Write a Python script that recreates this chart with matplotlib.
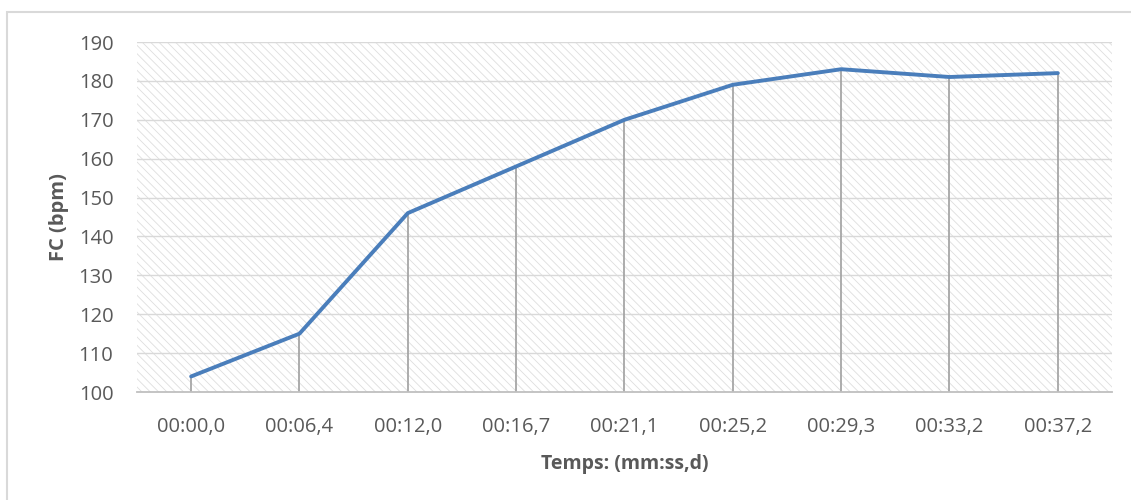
import matplotlib.pyplot as plt
from matplotlib.patches import Rectangle

plt.rcParams['font.family'] = ['Open Sans', 'DejaVu Sans']
plt.rcParams['hatch.linewidth'] = 0.6

temps = ['00:00,0', '00:06,4', '00:12,0', '00:16,7', '00:21,1',
         '00:25,2', '00:29,3', '00:33,2', '00:37,2']
fc = [104, 115, 146, 158, 170, 179, 183, 181, 182]
yticks = [100, 110, 120, 130, 140, 150, 160, 170, 180, 190]

text_col = '#595959'
grid_col = '#d9d9d9'

fig = plt.figure(figsize=(11.31, 5), dpi=100)
ax = fig.add_axes([0.1211, 0.216, 0.8621, 0.70])

# outer chart border
fig.patches.append(Rectangle((0.0062, -0.1), 1.2, 1.076, transform=fig.transFigure,
                             fill=False, edgecolor=grid_col, linewidth=1.5, zorder=0))

# hatched plot area
ax.set_facecolor('white')
ax.add_patch(Rectangle((0, 0), 1, 1, transform=ax.transAxes, facecolor='white',
                       edgecolor='#dedede', hatch='\\\\\\\\', linewidth=0, zorder=0))

x = list(range(len(temps)))
for t in yticks[1:]:
    ax.axhline(t, color=grid_col, linewidth=1.0, zorder=1)

# drop lines from each point to the axis
ax.vlines(x, yticks[0], fc, colors='#a6a6a6', linewidth=1.3, zorder=2)
ax.plot(x, fc, color='#4A7EBB', linewidth=2.8, solid_joinstyle='round',
        solid_capstyle='round', zorder=3)

ax.set_xlim(-0.5, len(temps) - 0.5)
ax.set_ylim(100, 190)
ax.set_yticks(yticks)
ax.set_xticks(x)
ax.set_xticklabels(temps)

for s in ['top', 'right', 'left']:
    ax.spines[s].set_visible(False)
ax.spines['bottom'].set_color('#bfbfbf')
ax.spines['bottom'].set_linewidth(1.3)
ax.spines['bottom'].set_zorder(4)

ax.tick_params(axis='both', length=0, labelsize=14.5, labelcolor=text_col)
ax.tick_params(axis='x', pad=18)
ax.tick_params(axis='y', pad=17)

ax.set_xlabel('Temps: (mm:ss,d)', fontsize=14, fontweight='bold', color=text_col, labelpad=12)
ax.set_ylabel('FC (bpm)', fontsize=14.5, fontweight='bold', color=text_col, labelpad=7)

fig.savefig('out.png', dpi=100)
